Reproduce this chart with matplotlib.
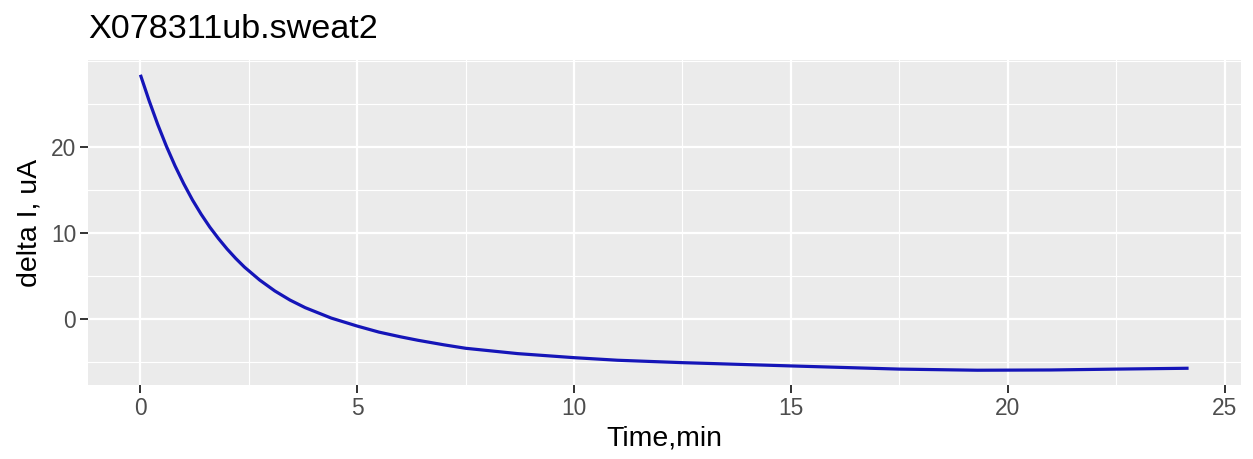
import matplotlib
matplotlib.use("Agg")
import matplotlib.pyplot as plt
from matplotlib.ticker import MultipleLocator

plt.rcParams['font.family'] = ['Liberation Sans', 'DejaVu Sans']

# Data
time_min = [0.0, 0.2, 0.4, 0.6, 0.8, 1.0, 1.2, 1.4, 1.6, 1.8, 2.0, 2.2, 2.4,
            2.75, 3.1, 3.45, 3.8, 4.4, 5.0, 5.5, 6.0, 6.4, 7.0, 7.5, 8.7, 10.0,
            11.0, 12.5, 15.0, 17.5, 19.3, 21.0, 22.5, 24.17]
delta_i = [28.4, 25.4, 22.62, 20.09, 17.8, 15.73, 13.86, 12.2, 10.7, 9.37, 8.15,
           7.05, 6.05, 4.55, 3.28, 2.22, 1.34, 0.13, -0.8, -1.5, -2.05, -2.45,
           -2.98, -3.38, -4.0, -4.47, -4.77, -5.05, -5.43, -5.8, -5.93, -5.9,
           -5.8, -5.7]

title = "X078311ub.sweat2"
xlabel = "Time,min"
ylabel = "delta I, uA"
xticks = [0, 5, 10, 15, 20, 25]
yticks = [0, 10, 20]

W, H = 1253, 459
fig = plt.figure(figsize=(W / 100, H / 100), dpi=100)
ax = fig.add_axes([88 / W, 1 - 385 / H, (1241 - 88) / W, (385 - 60) / H])
ax.set_facecolor('#EBEBEB')
for s in ax.spines.values():
    s.set_visible(False)

ax.plot(time_min, delta_i, color='#1515b8', lw=2.3, solid_capstyle='butt',
        solid_joinstyle='round', zorder=3)

# ggplot-style 5% expansion
xmin, xmax = min(time_min), max(time_min)
ymin, ymax = min(delta_i), max(delta_i)
xr, yr = xmax - xmin, ymax - ymin
ax.set_xlim(xmin - 0.05 * xr, xmax + 0.05 * xr)
ax.set_ylim(ymin - 0.05 * yr, ymax + 0.05 * yr)

ax.set_xticks(xticks)
ax.set_yticks(yticks)
ax.xaxis.set_minor_locator(MultipleLocator(2.5))
ax.yaxis.set_minor_locator(MultipleLocator(5))
ax.grid(which='major', color='white', lw=1.6, zorder=1)
ax.grid(which='minor', color='white', lw=0.8, zorder=1)
ax.set_axisbelow(True)

ax.tick_params(axis='both', which='major', length=5.5, width=1.4, color='#333333',
               labelsize=16.4, labelcolor='#4D4D4D', pad=3)
ax.tick_params(axis='both', which='minor', length=0)

ax.set_xlabel(xlabel, fontsize=20.5, color='black', labelpad=4)
ax.set_ylabel(ylabel, fontsize=20.5, color='black', labelpad=6)

fig.text(88 / W, 1 - 38 / H, title, fontsize=24.6, color='black', ha='left', va='baseline')

fig.savefig('out.png', dpi=100, facecolor='white')
